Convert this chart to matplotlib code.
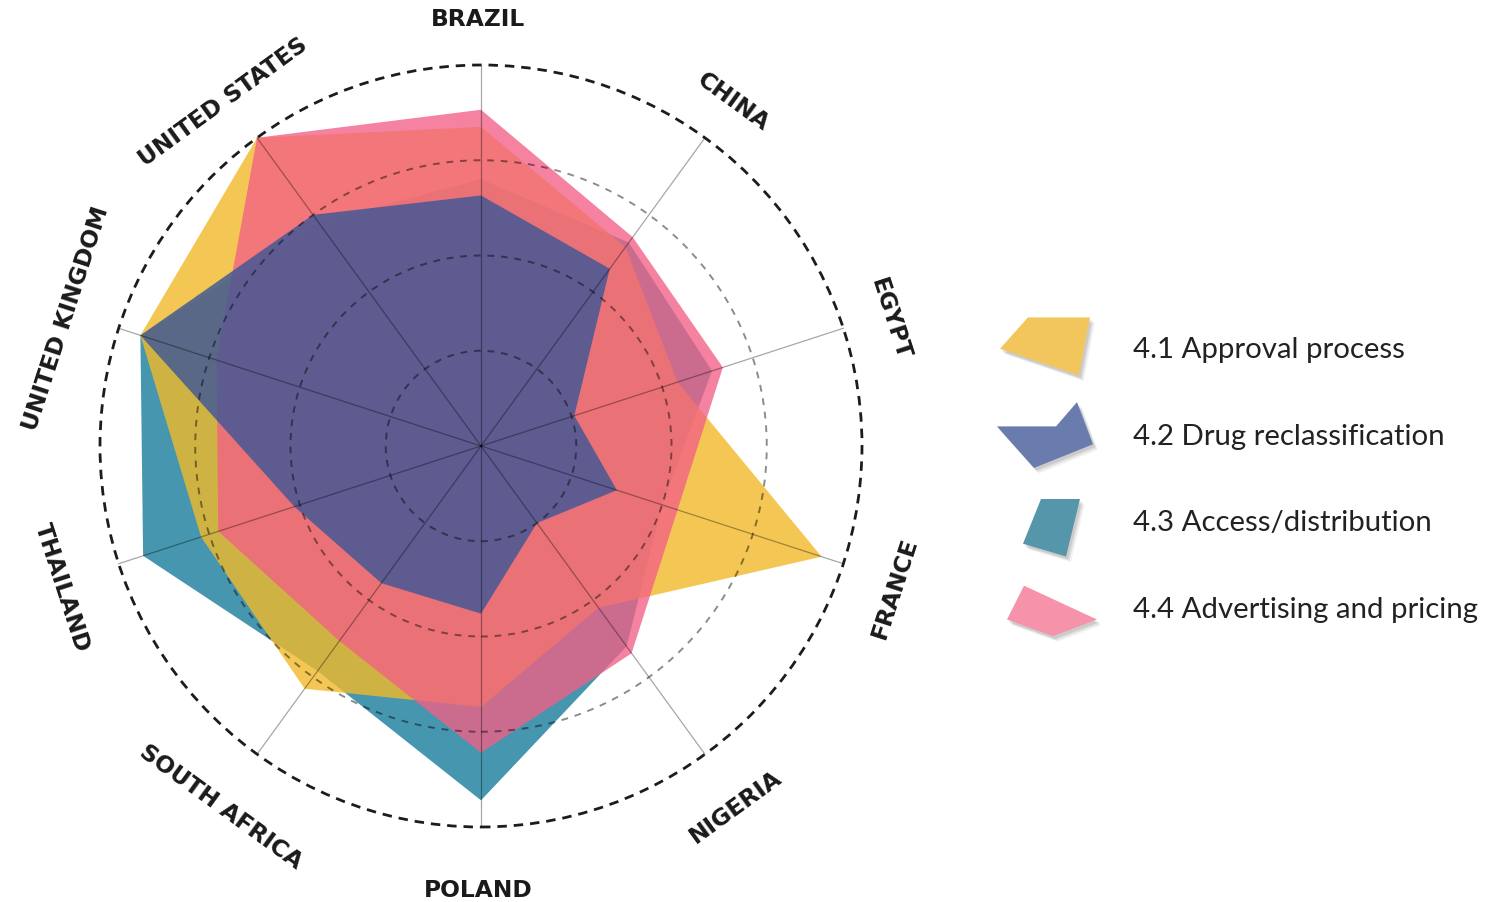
import numpy as np
import matplotlib
matplotlib.use("Agg")
import matplotlib.pyplot as plt
from matplotlib.patches import Polygon, Circle, Patch
from matplotlib.legend_handler import HandlerBase

# ---------------- data ----------------
categories = ["BRAZIL", "CHINA", "EGYPT", "FRANCE", "NIGERIA", "POLAND",
              "SOUTH AFRICA", "THAILAND", "UNITED KINGDOM", "UNITED STATES"]
series_labels = ["4.1 Approval process", "4.2 Drug reclassification",
                 "4.3 Access/distribution", "4.4 Advertising and pricing"]
approval = [3.35, 2.58, 2.17, 3.76, 2.10, 2.74, 3.15, 3.09, 3.76, 4.00]
reclassification = [2.63, 2.30, 1.03, 1.50, 1.00, 1.76, 1.78, 2.06, 3.76, 3.00]
access = [2.80, 2.64, 2.55, 2.00, 2.60, 3.72, 2.92, 3.73, 3.76, 2.90]
advertising = [3.53, 2.71, 2.67, 2.17, 2.69, 3.22, 2.53, 2.90, 2.92, 4.00]
ring_levels = [1, 2, 3, 4]

# ---------------- style ----------------
fill_colors = {"approval": "#F2BA2A", "reclassification": "#3A5697",
               "access": "#4696AF", "advertising": "#F25F85"}
fill_alpha = {"approval": 0.8, "reclassification": 0.8,
              "access": 1.0, "advertising": 0.78}
legend_colors = ["#F2C65C", "#6A7CAE", "#5696AA", "#F692AA"]
# normalised legend icon outlines (u: 0..1 across handle, v: around text centre)
legend_shapes = [
    [(0.03, 0.48), (0.31, 0.97), (0.93, 0.97), (0.82, 0.06)],
    [(0.0, 0.62), (0.59, 0.62), (0.80, 1.0), (0.96, 0.34), (0.37, -0.03)],
    [(0.44, 0.84), (0.83, 0.84), (0.69, -0.06), (0.26, 0.14)],
    [(0.27, 0.84), (1.0, 0.31), (0.56, 0.05), (0.10, 0.31)],
]

W, H = 1504, 902
CX, CY = 481, 446          # chart centre in pixels
U = 95.25                  # pixels per unit

fig = plt.figure(figsize=(W / 100, H / 100), dpi=100)
ax = fig.add_axes([0, 0, 1, 1])
ax.set_xlim(-CX / U, (W - CX) / U)
ax.set_ylim(-(H - CY) / U, CY / U)
ax.axis("off")

n = len(categories)
angles = np.deg2rad(90 - 360 / n * np.arange(n))


def xy(values):
    v = np.asarray(values, dtype=float)
    return np.column_stack([v * np.cos(angles), v * np.sin(angles)])


order = [("access", access), ("approval", approval),
         ("advertising", advertising), ("reclassification", reclassification)]
for z, (key, vals) in enumerate(order):
    ax.add_patch(Polygon(xy(vals), closed=True, facecolor=fill_colors[key],
                         edgecolor="none", alpha=fill_alpha[key], zorder=2 + z))

# grid on top
rmax = max(ring_levels)
for a in angles:
    ax.plot([0, rmax * np.cos(a)], [0, rmax * np.sin(a)], color="k",
            alpha=0.35, lw=0.9, zorder=10)
for r in ring_levels[:-1]:
    ax.add_patch(Circle((0, 0), r, fill=False, edgecolor="k", alpha=0.45,
                        lw=1.4, ls=(0, (3.5, 3.5)), zorder=11))
ax.add_patch(Circle((0, 0), rmax, fill=False, edgecolor="#1c1c1c",
                    lw=2.0, ls=(0, (3.4, 2.5)), zorder=11))

# category labels
lab_cx, lab_cy = -0.03, -0.07
for name, a in zip(categories, angles):
    deg = np.rad2deg(a)
    upper = np.sin(a) > 1e-6
    rot = deg - 90 if upper else deg + 90
    lab_r = 4.55 if upper else 4.60
    ax.text(lab_cx + lab_r * np.cos(a), lab_cy + lab_r * np.sin(a), name,
            rotation=rot, rotation_mode="anchor", ha="center", va="center",
            fontsize=16.8, fontweight="bold", family="DejaVu Sans",
            color="#1a1a1a", zorder=12)


# legend with polygon icons
class ShapeHandler(HandlerBase):
    def __init__(self, shape, **kw):
        super().__init__(**kw)
        self.shape = shape

    def create_artists(self, legend, orig_handle, xdescent, ydescent,
                       width, height, fontsize, trans):
        cy = 0.36 * fontsize
        hh = 46.0
        pts = [(-xdescent + u * width, cy + (v - 0.5) * hh) for u, v in self.shape]
        arts = []
        for dx, dy, al in [(3.5, -4.0, 0.05), (2.5, -3.0, 0.07), (1.5, -2.0, 0.09)]:
            arts.append(Polygon([(px + dx, py + dy) for px, py in pts], closed=True,
                                facecolor="k", edgecolor="none", alpha=al,
                                transform=trans))
        arts.append(Polygon(pts, closed=True, facecolor=orig_handle.get_facecolor(),
                            edgecolor="none", transform=trans))
        return arts


fs = 21.2
handles = [Patch(facecolor=c) for c in legend_colors]
hmap = {h: ShapeHandler(s) for h, s in zip(handles, legend_shapes)}
leg = ax.legend(handles, series_labels, handler_map=hmap, loc="center left",
                bbox_to_anchor=(997 / W, 1 - 480 / H), bbox_transform=fig.transFigure,
                frameon=False, borderpad=0, borderaxespad=0,
                handlelength=72 / fs, handletextpad=1.22, labelspacing=2.06,
                prop={"family": "Lato", "weight": "normal", "size": fs})
for t in leg.get_texts():
    t.set_color("#222222")

fig.savefig("out.png", dpi=100)
